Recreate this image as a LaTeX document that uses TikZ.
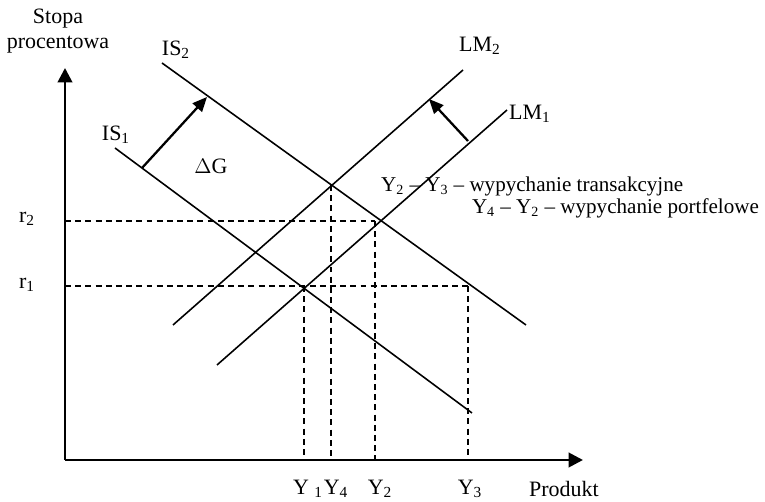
\documentclass[tikz,border=0pt]{standalone}
\usepackage{fontspec}
\setmainfont{Liberation Serif}
\usepackage{tikz}
\usetikzlibrary{arrows.meta,positioning,calc}
\tikzset{
  axis line/.style={-{Triangle[length=2.9mm,width=2.9mm]},line width=1.6pt},
  curve line/.style={line width=0.9pt},
  guide line/.style={dashed,dash pattern=on 3.4pt off 2.4pt,line width=0.8pt},
  shift arrow/.style={-{Triangle[length=2.9mm,width=2.5mm]},line width=1.3pt},
  curve label/.style={inner sep=1pt,font=\fontsize{12.5}{14.5}\selectfont},
  tick label/.style={inner sep=1pt,font=\fontsize{12.5}{14.5}\selectfont},
  note label/.style={inner sep=1pt,font=\fontsize{12}{14}\selectfont}
}
\begin{document}
\begin{tikzpicture}[x=0.02cm,y=-0.02cm]
\useasboundingbox (0,0) rectangle (765,502);
% axes
\coordinate (origin) at (65,460);
\coordinate (rtop) at (65,68);
\coordinate (yend) at (583,460);
\draw[axis line] (origin) -- (rtop);
\draw[axis line] (origin) -- (yend);
\node[tick label,align=center] (rlab) at (58,31) {Stopa\\procentowa};
\node[tick label,anchor=west] (ylab) at (527,489) {Produkt};
% IS and LM curves
\coordinate (is1a) at (115,148); \coordinate (is1b) at (472,413);
\coordinate (is2a) at (162,63);  \coordinate (is2b) at (526,325);
\coordinate (lm1a) at (217,365); \coordinate (lm1b) at (507,110);
\coordinate (lm2a) at (173,325); \coordinate (lm2b) at (463,70);
\draw[curve line] (is1a) -- (is1b);
\draw[curve line] (is2a) -- (is2b);
\draw[curve line] (lm1a) -- (lm1b);
\draw[curve line] (lm2a) -- (lm2b);
\node[curve label] (is1) at (116,135) {IS\textsubscript{1}};
\node[curve label] (is2) at (176,50) {IS\textsubscript{2}};
\node[curve label] (lm1) at (530,114) {LM\textsubscript{1}};
\node[curve label] (lm2) at (480,46) {LM\textsubscript{2}};
% shifts
\coordinate (dga) at (142,168); \coordinate (dgb) at (207,97);
\coordinate (dma) at (468,141); \coordinate (dmb) at (429,99);
\draw[shift arrow] (dga) -- (dgb);
\draw[shift arrow] (dma) -- (dmb);
\node[curve label] (dg) at (211,166) {$\Delta$G};
% equilibria
\coordinate (e1) at (304,286);
\coordinate (e2) at (375,221);
\coordinate (e4) at (331,185);
\coordinate (e3) at (468,286);
\draw[guide line] (origin |- e1) -- (e3);
\draw[guide line] (origin |- e2) -- (e2);
\foreach \p in {e1,e2,e3,e4} \draw[guide line] (\p) -- (\p |- origin);
\node[tick label] (r1) at (27,285) {r\textsubscript{1}};
\node[tick label] (r2) at (27,219) {r\textsubscript{2}};
\node[tick label] (y1) at (308,489) {Y \textsubscript{1}};
\node[tick label] (y4) at (336,489) {Y\textsubscript{4}};
\node[tick label] (y2) at (380,489) {Y\textsubscript{2}};
\node[tick label] (y3) at (470,489) {Y\textsubscript{3}};
% notes
\node[note label,anchor=west] (note1) at (379,186) {Y\textsubscript{2} -- Y\textsubscript{3} -- wypychanie transakcyjne};
\node[note label,anchor=east] (note2) at (761,208) {Y\textsubscript{4} -- Y\textsubscript{2} -- wypychanie portfelowe};
\end{tikzpicture}
\end{document}
